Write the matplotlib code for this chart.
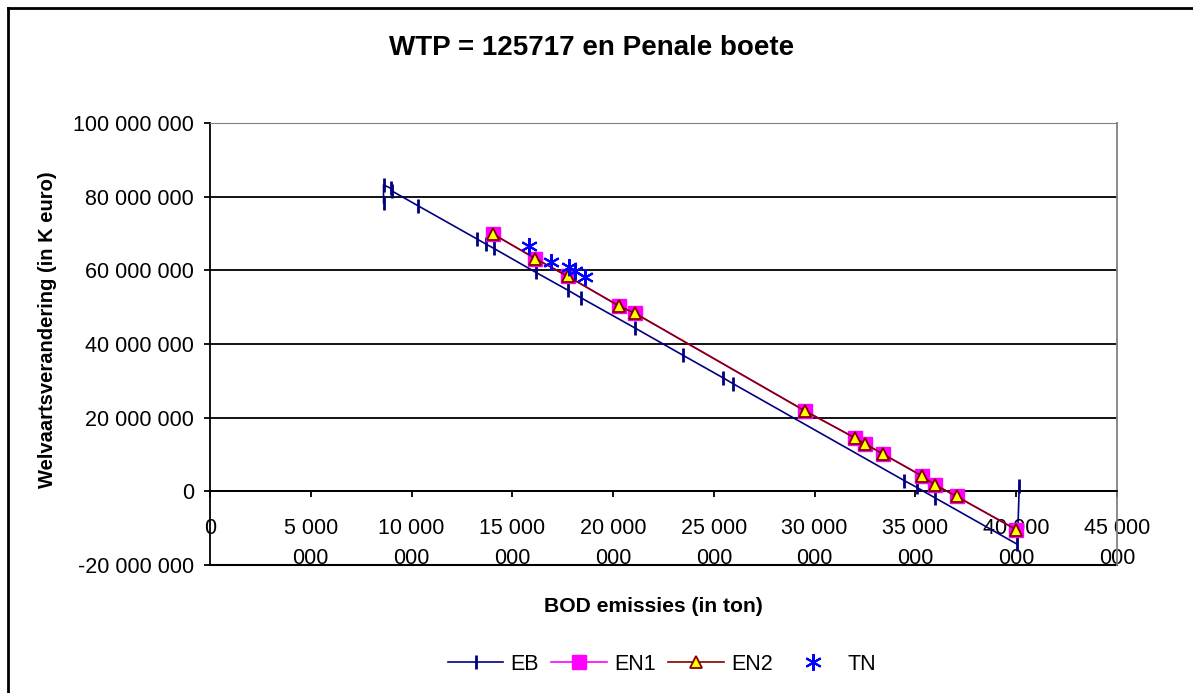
import matplotlib
matplotlib.use("Agg")
import matplotlib.pyplot as plt
from matplotlib.lines import Line2D

plt.rcParams['font.family'] = ['Liberation Sans', 'DejaVu Sans']
plt.rcParams['xtick.labelsize'] = 15.5
plt.rcParams['ytick.labelsize'] = 15.5

# data (x = BOD emissies in ton, y = welvaartsverandering)
eb_x = [8.61e6, 8.61e6, 8.96e6, 9.04e6, 10.3e6, 13.25e6, 13.7e6, 14.07e6, 16.15e6, 17.76e6,
        18.42e6, 21.1e6, 23.48e6, 25.46e6, 25.96e6, 34.45e6, 35.06e6, 35.95e6, 40.06e6, 40.15e6]
eb_y = [78.3e6, 83.2e6, 82.3e6, 81.5e6, 77.6e6, 68.5e6, 67.1e6, 66.0e6, 59.5e6, 54.6e6,
        52.5e6, 44.3e6, 36.9e6, 30.8e6, 29.2e6, 2.9e6, 1.1e6, -1.7e6, -14.4e6, 1.4e6]

en_x = [14.06e6, 16.14e6, 17.74e6, 20.3e6, 21.1e6, 29.5e6, 32.0e6, 32.5e6, 33.4e6,
        35.35e6, 35.96e6, 37.05e6, 40.0e6]
en1_y = [69.8e6, 63.2e6, 58.4e6, 50.3e6, 48.3e6, 21.9e6, 14.5e6, 12.9e6, 10.1e6,
         4.1e6, 1.8e6, -1.4e6, -10.4e6]
en2_y = en1_y

tn_x = [15.84e6, 16.9e6, 17.82e6, 18.1e6, 18.6e6]
tn_y = [66.6e6, 62.3e6, 61.0e6, 59.8e6, 58.2e6]

x_ticks = [0, 5e6, 10e6, 15e6, 20e6, 25e6, 30e6, 35e6, 40e6, 45e6]
y_ticks = [-20e6, 0, 20e6, 40e6, 60e6, 80e6, 100e6]


def spaced(v):
    return f"{int(v):,}".replace(",", " ")


def xlab(v):
    if v == 0:
        return "0"
    a, b = spaced(v).rsplit(" ", 1)
    return a + "\n" + b


fig = plt.figure(figsize=(11.93, 6.93), dpi=100)
ax = fig.add_axes([210 / 1193, 1 - 565 / 693, 907 / 1193, 442 / 693])

ax.plot(eb_x, eb_y, color='#000080', lw=1.2, marker='|', ms=10, mew=2, label='EB', zorder=3)
ax.plot(en_x, en1_y, color='#ff00ff', lw=1.2, marker='s', ms=10, mfc='#ff00ff', mec='#ff00ff',
        label='EN1', zorder=4)
ax.plot(en_x, en2_y, color='#800000', lw=1.2, marker='^', ms=9, mfc='#ffff00', mec='#800000',
        mew=1.3, label='EN2', zorder=5)
ax.plot(tn_x, tn_y, ls='none', marker=(6, 2, 0), ms=12, mew=1.5, color='#0000ff', label='TN', zorder=6)

ax.set_xlim(0, 45e6)
ax.set_ylim(-20e6, 100e6)
ax.yaxis.grid(True, color='black', lw=1.3)
ax.set_axisbelow(True)

ax.spines['bottom'].set_position(('data', 0))
ax.spines['bottom'].set_linewidth(1.3)
ax.spines['left'].set_linewidth(1.3)
ax.spines['top'].set_color('#808080')
ax.spines['right'].set_color('#808080')
ax.spines['right'].set_linewidth(1.3)
ax.tick_params(axis='y', length=4.5, width=1.3, pad=7)
ax.tick_params(axis='x', length=4, width=1.3, pad=15)
ax.axhline(-20e6, color='black', lw=1.5, clip_on=False)

ax.set_yticks(y_ticks)
ax.set_yticklabels([spaced(v) for v in y_ticks])
ax.set_xticks(x_ticks)
ax.set_xticklabels([xlab(v) for v in x_ticks], linespacing=1.55)

fig.text(592 / 1193, 1 - 48 / 693, 'WTP = 125717 en Penale boete', fontsize=20, fontweight='bold',
         ha='center', va='center')
fig.text(48 / 1193, 1 - 330 / 693, 'Welvaartsverandering (in K euro)', fontsize=14.5, fontweight='bold',
         rotation=90, ha='center', va='center')
fig.text(653 / 1193, 1 - 606 / 693, 'BOD emissies (in ton)', fontsize=15.2, fontweight='bold',
         ha='center', va='center')

fig.legend(loc='center', bbox_to_anchor=(662 / 1193, 1 - 664 / 693), ncol=4, frameon=False,
           fontsize=15.5, handlelength=2.6, handletextpad=0.3, columnspacing=0.6)

# outer chart border (top and left edges visible)
fig.add_artist(Line2D([8 / 1193, 1.0], [1 - 8 / 693, 1 - 8 / 693], color='black', lw=2))
fig.add_artist(Line2D([8 / 1193, 8 / 1193], [0, 1 - 8 / 693], color='black', lw=2))

fig.savefig('out.png', dpi=100)
